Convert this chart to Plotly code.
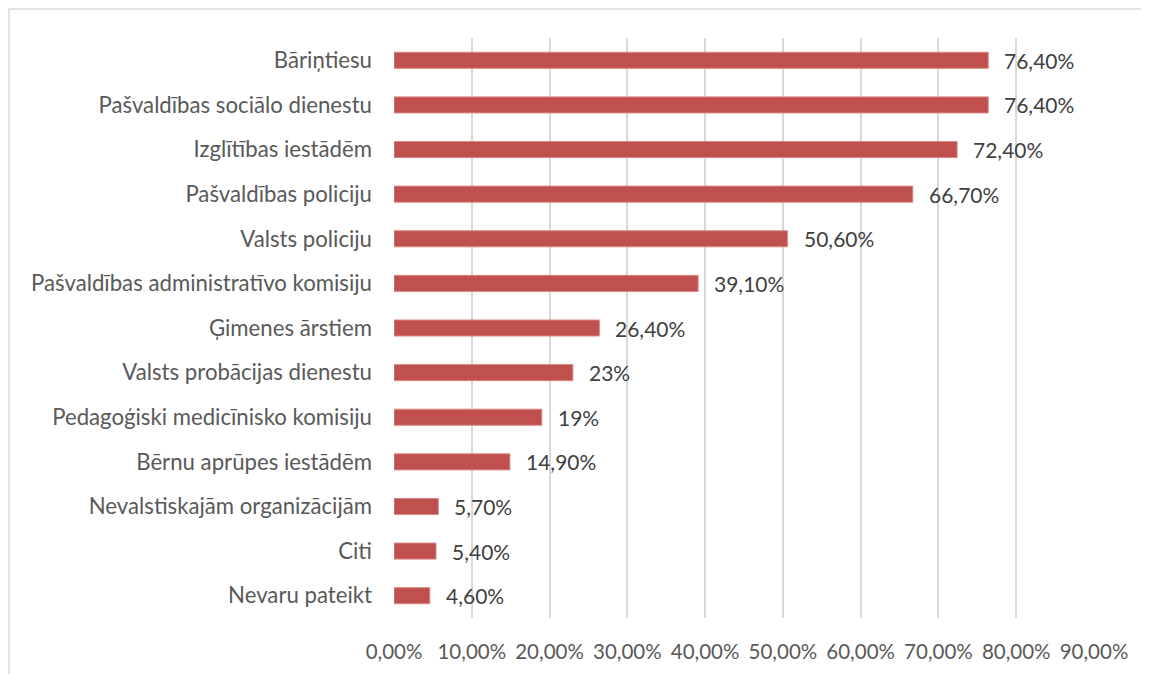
import plotly.graph_objects as go

# categories top -> bottom as shown in the chart
categories = [
    "Bāriņtiesu",
    "Pašvaldības sociālo dienestu",
    "Izglītības iestādēm",
    "Pašvaldības policiju",
    "Valsts policiju",
    "Pašvaldības administratīvo komisiju",
    "Ģimenes ārstiem",
    "Valsts probācijas dienestu",
    "Pedagoģiski medicīnisko komisiju",
    "Bērnu aprūpes iestādēm",
    "Nevalstiskajām organizācijām",
    "Citi",
    "Nevaru pateikt",
]
values = [76.4, 76.4, 72.4, 66.7, 50.6, 39.1, 26.4, 23, 19, 14.9, 5.7, 5.4, 4.6]
# the source shows whole numbers without decimals
bar_labels = ["76,40%", "76,40%", "72,40%", "66,70%", "50,60%", "39,10%", "26,40%",
              "23%", "19%", "14,90%", "5,70%", "5,40%", "4,60%"]
x_ticks = [0, 10, 20, 30, 40, 50, 60, 70, 80, 90]
tick_text = [f"{t:.2f}%".replace(".", ",") for t in x_ticks]

# page body has an 8px margin, so the figure is a bit smaller than the window
W, H = 1141, 666
L, R, T, B = 386, 55, 30, 56
pw, ph = W - L - R, H - T - B

FONT = "Lato, 'Open Sans', sans-serif"
GRAY = "#595959"

fig = go.Figure(go.Bar(
    y=categories,
    x=values,
    orientation="h",
    marker=dict(color="#C0504D", line=dict(color="#D98885", width=1)),
    hoverinfo="x+y",
))

# data labels to the right of each bar
for cat, v, lab in zip(categories, values, bar_labels):
    fig.add_annotation(
        x=v, y=cat, text=lab,
        showarrow=False, xanchor="left", yanchor="middle",
        xshift=14,
        font=dict(family=FONT, size=21, color="#404040"),
    )

fig.update_layout(
    width=W, height=H,
    margin=dict(l=L, r=R, t=T, b=B),
    paper_bgcolor="white",
    plot_bgcolor="white",
    bargap=0.64,
    showlegend=False,
    font=dict(family=FONT, size=17, color=GRAY),
)

fig.update_xaxes(
    range=[0, 90],
    tickvals=x_ticks,
    ticktext=tick_text,
    showgrid=True,
    gridcolor="#D9D9D9",
    gridwidth=1.5,
    zeroline=False,
    showline=False,
    ticks="",
    ticklabelstandoff=19,
    tickfont=dict(family=FONT, size=20.5, color=GRAY),
)
fig.update_yaxes(
    categoryorder="array",
    categoryarray=categories[::-1],
    showgrid=False,
    showline=False,
    ticks="",
    ticklabelstandoff=21,
    tickfont=dict(family=FONT, size=22.2, color=GRAY),
)

# chart frame
fig.add_shape(
    type="rect", xref="paper", yref="paper",
    x0=(1 - L) / pw, x1=(W + 20 - L) / pw,
    y0=-(B + 20) / ph, y1=1 + (T - 1) / ph,
    line=dict(color="#D9D9D9", width=1.5),
    fillcolor="rgba(0,0,0,0)",
    layer="below",
)

fig.write_html("out.html")
